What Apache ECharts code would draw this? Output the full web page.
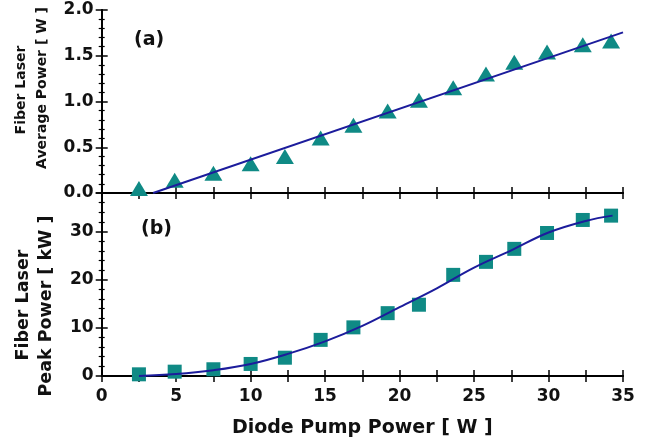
<!DOCTYPE html>
<html><head><meta charset="utf-8">
<script src="https://cdn.jsdelivr.net/npm/echarts@6/dist/echarts.min.js"></script>
<style>html,body{margin:0;padding:0;background:#fff}#c{width:648px;height:445px}</style>
</head><body><div id="c"></div>
<script>
var pumpPower = [2.5, 4.9, 7.5, 10.0, 12.3, 14.7, 16.9, 19.2, 21.3, 23.6, 25.8, 27.7, 29.9, 32.3, 34.2];
var avgPower = [0.05, 0.14, 0.215, 0.32, 0.40, 0.60, 0.74, 0.895, 1.015, 1.15, 1.30, 1.43, 1.54, 1.62, 1.66];
var peakPower = [0.35, 0.9, 1.4, 2.5, 3.8, 7.5, 10.1, 13.05, 14.8, 21.0, 23.7, 26.4, 29.7, 32.4, 33.3];
var avgFitX = [3.45, 35];
var avgFitY = [0, 1.755];
var peakFitX = [2.5, 5, 7.5, 10, 12.5, 15, 17.5, 20, 22.5, 25, 27.5, 30, 32.5, 34.3];
var peakFitY = [0, 0.4, 1.2, 2.5, 4.6, 7.2, 10.4, 14.3, 18.2, 22.5, 26.1, 29.8, 32.2, 33.3];
var xTicks = [0, 5, 10, 15, 20, 25, 30, 35];

function zip(a, b) { return a.map(function (v, i) { return [v, b[i]]; }); }

var FONT = '"DejaVu Sans", Arial, sans-serif';
var axLine = { show: true, lineStyle: { color: '#000', width: 1.8 } };
var teal = '#0f8a85', navy = '#1c1c9c';

function xAx(grid, pos, labels) {
  return {
    type: 'value', gridIndex: grid, position: pos, min: 0, max: 35, interval: 5,
    axisLine: axLine,
    axisTick: { inside: true, length: 6, lineStyle: { color: '#000', width: 1.5 } },
    minorTick: { show: true, splitNumber: 2, length: 6, lineStyle: { color: '#000', width: 1.5 } },
    splitLine: { show: false },
    axisLabel: labels ? { show: true, color: '#111', fontFamily: FONT, fontWeight: 'bold', fontSize: 17, margin: 12 } : { show: false },
    name: labels ? 'Diode Pump Power [ W ]' : '',
    nameLocation: 'middle', nameGap: 43,
    nameTextStyle: { color: '#111', fontFamily: FONT, fontWeight: 'bold', fontSize: 19 }
  };
}
function yAx(grid, pos, max, interval, labels) {
  return {
    type: 'value', gridIndex: grid, position: pos, min: 0, max: max, interval: interval,
    axisLine: axLine,
    axisTick: { inside: true, length: 6, lineStyle: { color: '#000', width: 1.5 } },
    minorTick: { show: true, splitNumber: 5, length: 3, lineStyle: { color: '#000', width: 1.2 } },
    splitLine: { show: false },
    axisLabel: labels ? {
      show: true, color: '#111', fontFamily: FONT, fontWeight: 'bold', fontSize: 17, margin: 8,
      showMaxLabel: max % interval === 0,
      formatter: function (v) { return interval < 1 ? v.toFixed(1) : String(v); }
    } : { show: false }
  };
}
function vText(x, y, text, size) {
  return { type: 'text', x: x, y: y, rotation: Math.PI / 2,
    style: { text: text, font: 'bold ' + size + 'px ' + FONT, fill: '#111', textAlign: 'center', textVerticalAlign: 'middle' } };
}

var chart = echarts.init(document.getElementById('c'));
chart.setOption({
  animation: false,
  backgroundColor: '#fff',
  grid: [
    { left: 101.7, right: 25, top: 10, height: 183 },
    { left: 101.7, right: 25, top: 193, height: 183 }
  ],
  xAxis: [xAx(0, 'bottom', false), xAx(0, 'top', false), xAx(1, 'bottom', true), xAx(1, 'top', false)],
  yAxis: [yAx(0, 'left', 2.0, 0.5, true), yAx(0, 'right', 2.0, 0.5, false), yAx(1, 'left', 38, 10, true), yAx(1, 'right', 38, 10, false)],
  graphic: [
    { type: 'text', left: 134, top: 31, style: { text: '(a)', font: 'bold 19px ' + FONT, fill: '#111' } },
    { type: 'text', left: 141, top: 220, style: { text: '(b)', font: 'bold 19px ' + FONT, fill: '#111' } },
    vText(21, 90, 'Fiber Laser', 14),
    vText(42, 88, 'Average Power [ W ]', 14),
    vText(23, 305, 'Fiber Laser', 17.5),
    vText(46, 306, 'Peak Power [ kW ]', 17.5)
  ],
  series: [
    { type: 'line', xAxisIndex: 0, yAxisIndex: 0, data: zip(avgFitX, avgFitY), showSymbol: false, lineStyle: { color: navy, width: 2 }, z: 3 },
    { type: 'scatter', xAxisIndex: 0, yAxisIndex: 0, data: zip(pumpPower, avgPower), symbol: 'triangle', symbolSize: [18, 15], itemStyle: { color: teal, opacity: 1 }, z: 2 },
    { type: 'line', xAxisIndex: 2, yAxisIndex: 2, data: zip(peakFitX, peakFitY), smooth: 0.4, showSymbol: false, lineStyle: { color: navy, width: 2 }, z: 3 },
    { type: 'scatter', xAxisIndex: 2, yAxisIndex: 2, data: zip(pumpPower, peakPower), symbol: 'rect', symbolSize: 14, itemStyle: { color: teal, opacity: 1 }, z: 2 }
  ]
});
</script></body></html>
